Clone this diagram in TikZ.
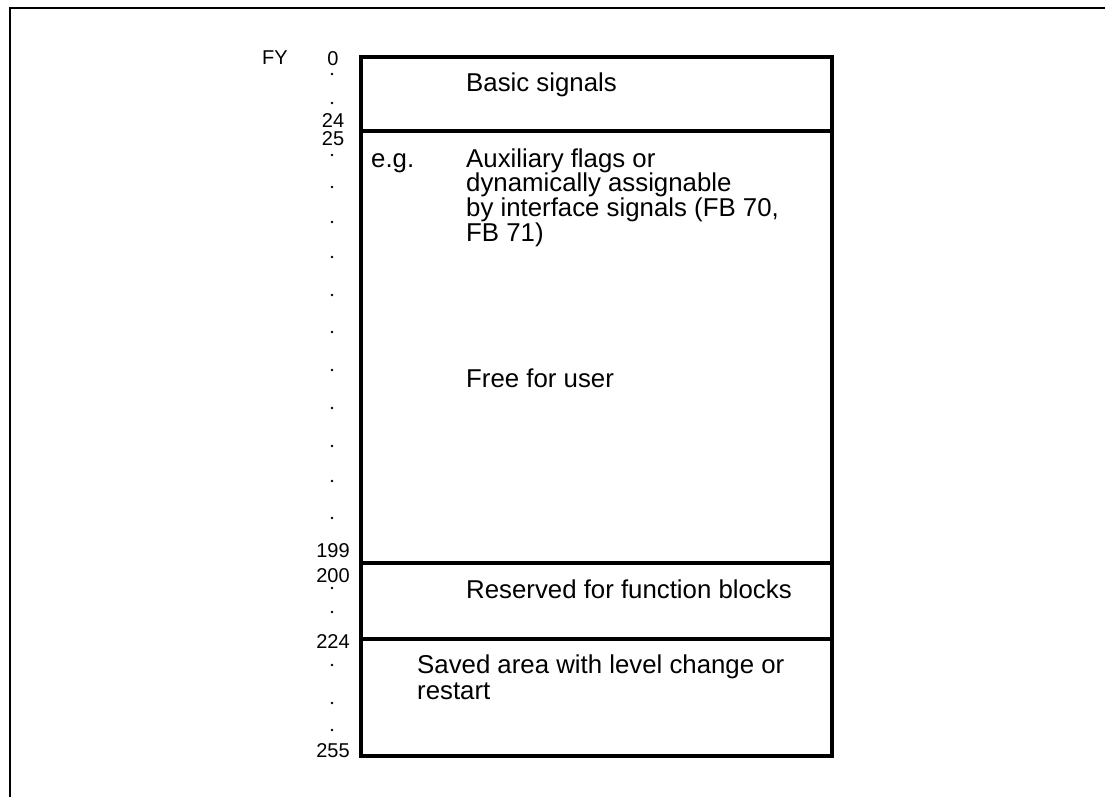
\documentclass[tikz,border=0pt]{standalone}
\usepackage{fontspec}
\setmainfont{Liberation Sans}
\begin{document}
\begin{tikzpicture}[x=1pt,y=-1pt,
  txt/.style={font=\fontsize{25.8}{24.5}\selectfont, inner sep=0pt, anchor=base west},
  lbl/.style={font=\fontsize{20}{20}\selectfont, inner sep=0pt, anchor=base},
  boxline/.style={line width=3.2pt},
  frameline/.style={line width=2pt, line join=miter},
  dotmark/.style={fill=black, circle, inner sep=0pt, minimum size=2.6pt}]
\useasboundingbox (0,0) rectangle (1105,797);
% outer frame
\coordinate (fbl) at (10,797);
\coordinate (ftl) at (10,8);
\coordinate (ftr) at (1105,8);
\draw[frameline] (fbl) -- (ftl) -- (ftr);
% memory box
\coordinate (b0l) at (361,57);   \coordinate (b0r) at (832,57);
\coordinate (b1l) at (361,131);  \coordinate (b1r) at (832,131);
\coordinate (b2l) at (361,563);  \coordinate (b2r) at (832,563);
\coordinate (b3l) at (361,639);  \coordinate (b3r) at (832,639);
\coordinate (b4l) at (361,756);  \coordinate (b4r) at (832,756);
\draw[boxline, line join=miter] (b0l) rectangle (b4r);
\draw[boxline] (b1l) -- (b1r);
\draw[boxline] (b2l) -- (b2r);
\draw[boxline] (b3l) -- (b3r);
% texts
\node[txt] (basic) at (466,92) {Basic signals};
\node[txt] (eg) at (371,167) {e.g.};
\node[txt] (aux1) at (466,167) {Auxiliary flags or};
\node[txt] (aux2) at (466,191.8) {dynamically assignable};
\node[txt] (aux3) at (466,216.6) {by interface signals (FB 70,};
\node[txt] (aux4) at (466,241.4) {FB 71)};
\node[txt] (free) at (466,387) {Free for user};
\node[txt] (res) at (466,598) {Reserved for function blocks};
\node[txt] (saved1) at (417,673) {Saved area with level change or};
\node[txt] (saved2) at (417,699) {restart};
% labels
\node[lbl] (fy) at (275,65) {FY};
\node[lbl] (n0) at (333,66) {0};
\node[lbl] (n24) at (333,128) {24};
\node[lbl] (n25) at (333,146) {25};
\node[lbl] (n199) at (333,557) {199};
\node[lbl] (n200) at (333,582) {200};
\node[lbl] (n224) at (333,648) {224};
\node[lbl] (n255) at (333,757) {255};
% dots
\foreach \y [count=\i] in {74,103,155,187,222,257,295,332,370,408,446,481,518,588,612,665,703,730}
  \node[dotmark] (d\i) at (332,\y) {};
\end{tikzpicture}
\end{document}
